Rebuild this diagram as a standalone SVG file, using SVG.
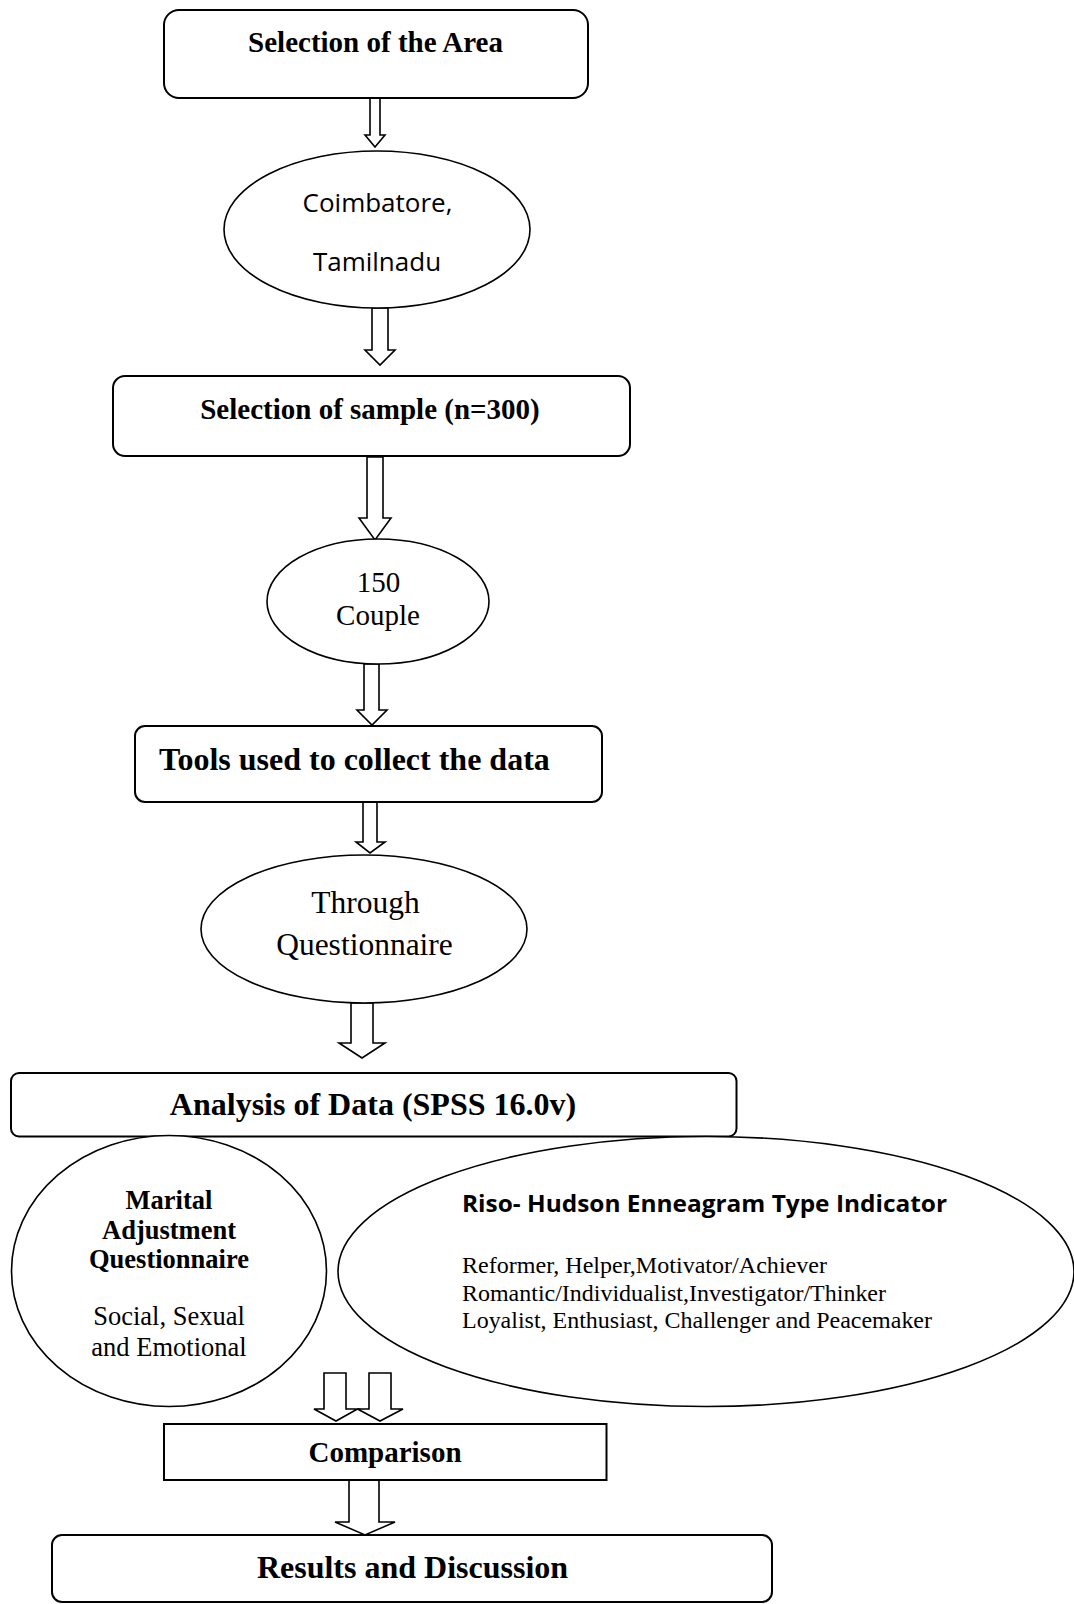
<svg xmlns="http://www.w3.org/2000/svg" width="1074" height="1604" viewBox="0 0 1074 1604">
<style>
.box{fill:#fff;stroke:#000;stroke-width:2}
.ell{fill:#fff;stroke:#000;stroke-width:1.6}
.arr{fill:#fff;stroke:#000;stroke-width:1.6;stroke-linejoin:miter}
.tb{font-family:"Liberation Serif","Times New Roman",serif;font-weight:bold;fill:#000}
.tr{font-family:"Liberation Serif","Times New Roman",serif;fill:#000}
.ts{font-family:"Open Sans","Noto Sans",sans-serif;fill:#000}
.c{text-anchor:middle}
</style>
<rect width="1074" height="1604" fill="#fff"/>
<g id="connectors">
<path class="arr" d="M370,98 V135 H365 L375,147 L385,135 H380 V98 Z"/>
<path class="arr" d="M372,308 V350 H365 L380,365 L395,350 H388 V308 Z"/>
<path class="arr" d="M367,457 V518 H359 L375,540 L391,518 H383 V457 Z"/>
<path class="arr" d="M364,664 V710 H357 L372,725 L387,710 H379 V664 Z"/>
<path class="arr" d="M363,802 V842 H356 L370,853 L385,842 H377 V802 Z"/>
<path class="arr" d="M351,1003 V1043 H339 L362,1058 L385,1043 H373 V1003 Z"/>
<path class="arr" d="M324,1373 V1409 H314 L336,1421 L357.5,1409 H346 V1373 Z"/>
<path class="arr" d="M369,1373 V1409 H357.5 L380,1421 L403,1409 H391 V1373 Z"/>
<path class="arr" d="M349,1480 V1522 H335 L365,1535 L395,1522 H379 V1480 Z"/>
</g>
<g id="n1">
<rect class="box" x="164" y="10" width="424" height="88" rx="15"/>
<text class="tb c" x="375.5" y="52" font-size="29">Selection of the Area</text>
</g>
<g id="n2">
<ellipse class="ell" cx="377" cy="229.5" rx="153" ry="78.5"/>
<text class="ts c" x="377.5" y="212" font-size="26">Coimbatore,</text>
<text class="ts c" x="377" y="271" font-size="26">Tamilnadu</text>
</g>
<g id="n3">
<rect class="box" x="113" y="376" width="517" height="80" rx="12"/>
<text class="tb c" x="370" y="419" font-size="29">Selection of sample (n=300)</text>
</g>
<g id="n4">
<ellipse class="ell" cx="378" cy="601.5" rx="111" ry="62.5"/>
<text class="tr c" x="378.5" y="592" font-size="29">150</text>
<text class="tr c" x="378" y="625" font-size="29">Couple</text>
</g>
<g id="n5">
<rect class="box" x="135" y="726" width="467" height="76" rx="10"/>
<text class="tb" x="159" y="770" font-size="32">Tools used to collect the data</text>
</g>
<g id="n6">
<ellipse class="ell" cx="364" cy="929" rx="163" ry="74"/>
<text class="tr c" x="365.5" y="913" font-size="31.5">Through</text>
<text class="tr c" x="364.5" y="955" font-size="31.5">Questionnaire</text>
</g>
<g id="n7">
<rect class="box" x="11" y="1073" width="725.5" height="63.5" rx="8"/>
<text class="tb c" x="373" y="1115" font-size="32">Analysis of Data (SPSS 16.0v)</text>
</g>
<g id="n8">
<ellipse class="ell" cx="169" cy="1271" rx="157.5" ry="135.5"/>
<text class="tb c" x="169" y="1209" font-size="26.5">Marital</text>
<text class="tb c" x="169" y="1239" font-size="26.5">Adjustment</text>
<text class="tb c" x="169" y="1268" font-size="26.5">Questionnaire</text>
<text class="tr c" x="169" y="1325" font-size="26.5">Social, Sexual</text>
<text class="tr c" x="169" y="1356" font-size="26.5">and Emotional</text>
</g>
<g id="n9">
<ellipse class="ell" cx="706" cy="1271.5" rx="368" ry="135"/>
<text class="ts" x="462" y="1212" font-size="23.5" font-weight="bold" textLength="485" lengthAdjust="spacingAndGlyphs">Riso- Hudson Enneagram Type Indicator</text>
<text class="tr" x="462" y="1273" font-size="24" textLength="365" lengthAdjust="spacingAndGlyphs">Reformer, Helper,Motivator/Achiever</text>
<text class="tr" x="462" y="1300.5" font-size="24" textLength="424" lengthAdjust="spacingAndGlyphs">Romantic/Individualist,Investigator/Thinker</text>
<text class="tr" x="462" y="1328" font-size="24" textLength="470" lengthAdjust="spacingAndGlyphs">Loyalist, Enthusiast, Challenger and Peacemaker</text>
</g>
<g id="n10">
<rect class="box" x="164" y="1424" width="442.5" height="56"/>
<text class="tb c" x="385" y="1462" font-size="29">Comparison</text>
</g>
<g id="n11">
<rect class="box" x="52" y="1535" width="720" height="67" rx="10"/>
<text class="tb c" x="412.5" y="1578" font-size="32">Results and Discussion</text>
</g>
</svg>
